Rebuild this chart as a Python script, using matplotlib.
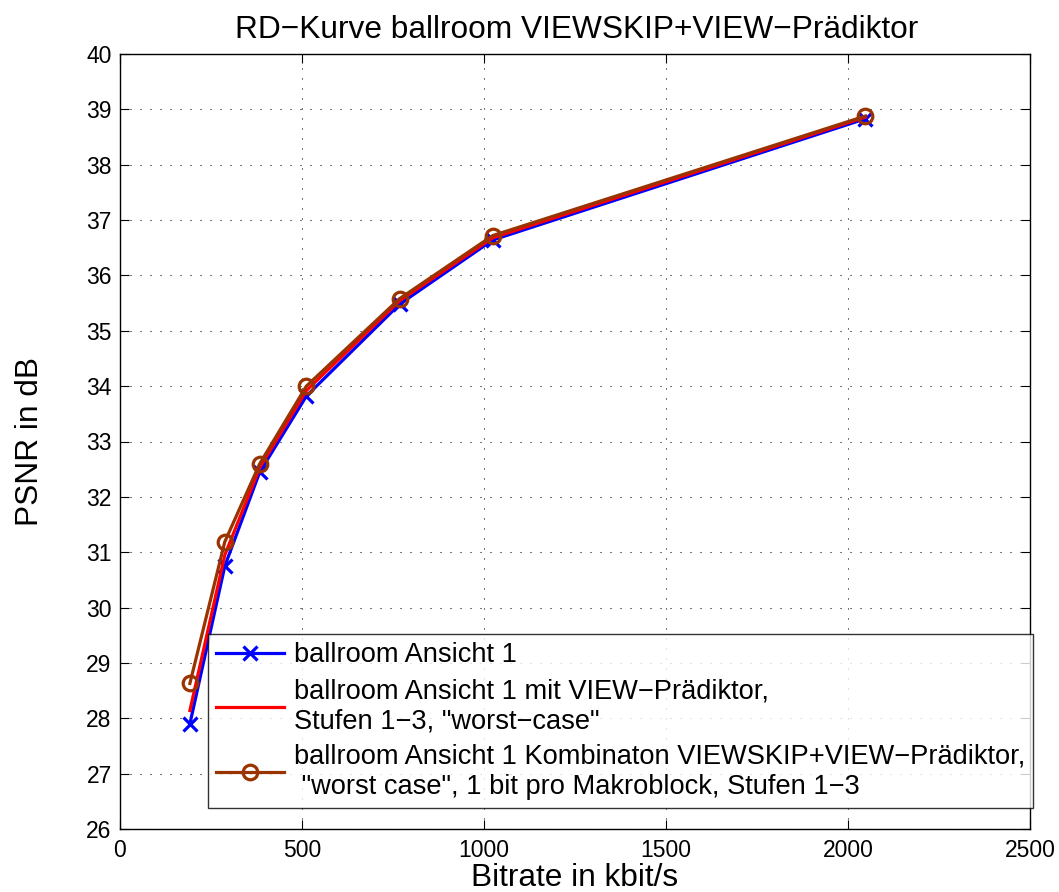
import matplotlib
matplotlib.use("Agg")
import matplotlib.pyplot as plt

plt.rcParams['font.family'] = ['Liberation Sans', 'DejaVu Sans']

bitrate = [192, 288, 384, 512, 768, 1024, 2048]
psnr_ansicht = [27.90, 30.75, 32.45, 33.82, 35.48, 36.64, 38.83]
psnr_view = [28.14, 30.95, 32.53, 33.92, 35.54, 36.68, 38.86]
psnr_combo = [28.63, 31.19, 32.60, 34.00, 35.58, 36.72, 38.88]

labels = [
    "ballroom Ansicht 1",
    "ballroom Ansicht 1 mit VIEW\u2212Prädiktor,\nStufen 1\u22123, \"worst\u2212case\"",
    "ballroom Ansicht 1 Kombinaton VIEWSKIP+VIEW\u2212Prädiktor,\n \"worst case\", 1 bit pro Makroblock, Stufen 1\u22123",
]
xticks = [0, 500, 1000, 1500, 2000, 2500]
yticks = list(range(26, 41))

W, H = 1059, 892
fig = plt.figure(figsize=(W/100, H/100), dpi=100)
ax = fig.add_axes([120/W, (H-829)/H, 910/W, 775/H])

l1, = ax.plot(bitrate, psnr_ansicht, color='#0000FF', lw=2.3, marker='x',
              ms=10, mew=2.3, label=labels[0], zorder=3)
l2, = ax.plot(bitrate, psnr_view, color='#FF0000', lw=2.3, label=labels[1], zorder=4)
l3, = ax.plot(bitrate, psnr_combo, color='#993300', lw=2.3, marker='o',
              ms=10.5, mew=2.3, mfc='none', label=labels[2], zorder=5)

ax.set_xlim(0, 2500)
ax.set_ylim(26, 40)
ax.set_xticks(xticks)
ax.set_yticks(yticks)
ax.tick_params(axis='both', direction='in', labelsize=16.5, length=6.5, width=0.8,
               top=True, right=True)
ax.tick_params(axis='x', pad=7)
ax.tick_params(axis='y', pad=6)
ax.grid(True, linestyle=(0, (1, 8.6)), color='black', linewidth=0.75)
for s in ax.spines.values():
    s.set_linewidth(1.0)

fig.text(577/W, (H-38)/H, "RD\u2212Kurve ballroom VIEWSKIP+VIEW\u2212Prädiktor",
         fontsize=22.8, ha='center', va='baseline')
fig.text(575/W, (H-886.5)/H, "Bitrate in kbit/s", fontsize=22.8,
         ha='center', va='baseline')
fig.text(30/W, (H-441.5)/H, "PSNR in dB", fontsize=22.8, rotation=90,
         ha='center', va='center')

leg = fig.legend(handles=[l1, l2, l3], loc='lower left',
                 bbox_to_anchor=(208/W, 84/H), fontsize=19.6,
                 frameon=True, fancybox=False, shadow=False,
                 handlelength=2.5, handletextpad=0.35, borderpad=0.3,
                 labelspacing=0.36, borderaxespad=0)
leg.get_frame().set_edgecolor('black')
leg.get_frame().set_linewidth(1.0)

fig.savefig("out.png", dpi=100)
